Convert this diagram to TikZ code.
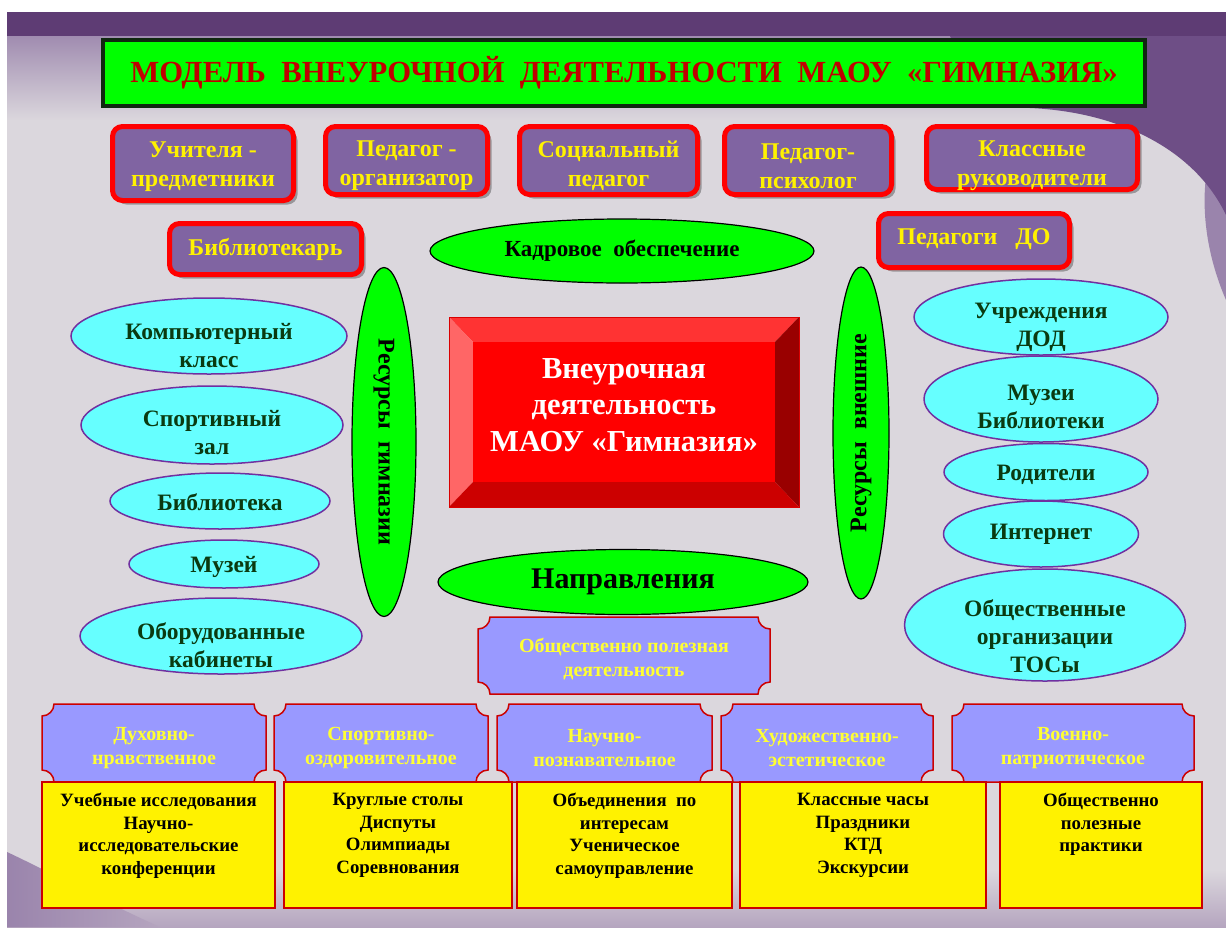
\documentclass[tikz,border=0pt]{standalone}
\usepackage{fontspec}
\setmainfont{Liberation Serif}
\usetikzlibrary{shapes.geometric,shadows}
\definecolor{bgc}{HTML}{DBD7DD}
\definecolor{toppurple}{HTML}{5E3C74}
\definecolor{lavtop}{HTML}{A08CB0}
\definecolor{swoosh}{HTML}{6E4E86}
\definecolor{swooshlight}{HTML}{9A84AC}
\definecolor{botpurple}{HTML}{B5A5BF}
\definecolor{staffc}{HTML}{8064A2}
\definecolor{cyanc}{HTML}{66FFFF}
\definecolor{ellc}{HTML}{7030A0}
\definecolor{dgreen}{HTML}{0A3A10}
\definecolor{plaquec}{HTML}{9999FF}
\definecolor{plaqueline}{HTML}{CC0000}
\definecolor{ytext}{HTML}{FFFF33}
\definecolor{titlered}{HTML}{C00000}
\definecolor{titleline}{HTML}{102810}
\newcommand\myfs[2]{\fontsize{#1}{#2}\selectfont\bfseries}
\newcommand\plq[7]{%
  \path[plaquebox] (#2+12,#3) -- (#4-12,#3)
    .. controls (#4-12,#3+6.6) and (#4-6.6,#3+12) .. (#4,#3+12) -- (#4,#5-12)
    .. controls (#4-6.6,#5-12) and (#4-12,#5-6.6) .. (#4-12,#5) -- (#2+12,#5)
    .. controls (#2+12,#5-6.6) and (#2+6.6,#5-12) .. (#2,#5-12) -- (#2,#3+12)
    .. controls (#2+6.6,#3+12) and (#2+12,#3+6.6) .. (#2+12,#3) -- cycle;
  \node[plaquetext] (#1) at ({(#2+#4)/2},{(#3+#5)/2+#6}) {#7};}
\begin{document}
\begin{tikzpicture}[x=1pt,y=-1pt,
  staff/.style={rectangle, rounded corners=10pt, draw=red, line width=5pt, fill=staffc,
    inner sep=0pt,
    drop shadow={shadow xshift=4pt, shadow yshift=-4pt, fill=black, opacity=0.3}},
  stafftext/.style={text=yellow, font=\myfs{24}{29}, align=center, inner sep=0pt},
  cyanell/.style={ellipse, draw=ellc, line width=1.5pt, fill=cyanc, inner sep=0pt},
  celltext/.style={text=dgreen, font=\myfs{23.5}{28}, align=center, inner sep=0pt},
  greenell/.style={ellipse, draw=black, line width=1.2pt, fill=green, text=black,
    align=center, inner sep=0pt},
  plaquebox/.style={fill=plaquec, draw=plaqueline, line width=1.5pt},
  plaquetext/.style={text=ytext, font=\myfs{20}{24}, align=center, inner sep=0pt},
  ybox/.style={rectangle, fill=yellow, draw=plaqueline, line width=2pt, inner sep=0pt},
  ybtext/.style={text=black, font=\myfs{18.8}{22.5}, align=center, inner sep=0pt, anchor=north}
]
\useasboundingbox (0,0) rectangle (1226,927);
% ---------- background ----------
\fill[white] (0,0) rectangle (1226,927);
\fill[bgc] (7,12) rectangle (1226,927);
\shade[top color=lavtop, bottom color=bgc] (7,36) rectangle (1226,120);
\fill[swooshlight] (1226,110) .. controls (1195,170) and (1200,240) .. (1226,300) -- cycle;
\fill[swoosh] (950,36) -- (1226,36) -- (1226,215) .. controls (1195,150) and (1120,112) .. (1030,108)
  .. controls (1000,105) and (970,80) .. (950,36) -- cycle;
\fill[toppurple] (7,12) rectangle (1226,36);
\shade[top color=bgc, bottom color=botpurple] (7,870) rectangle (1226,927);
\shade[left color=swooshlight, right color=botpurple] (7,852) .. controls (50,872) and (100,900) .. (160,927) -- (7,927) -- cycle;
% ---------- title ----------
\node[rectangle, draw=titleline, line width=4pt, fill=green, minimum width=1042, minimum height=66,
  text=titlered, font=\myfs{30.7}{35}] (title) at (624,73)
  {МОДЕЛЬ\ \ ВНЕУРОЧНОЙ\ \ ДЕЯТЕЛЬНОСТИ\ \ МАОУ\ \ «ГИМНАЗИЯ»};
% ---------- staff ----------
\node[staff, minimum width=181, minimum height=74] (s1) at (203,163.5) {};
\node[stafftext] (s1t) at (203,167) {Учителя -\\предметники};
\node[staff, minimum width=162, minimum height=68] (s2) at (406.5,160.5) {};
\node[stafftext] (s2t) at (406.5,166) {Педагог -\\организатор};
\node[staff, minimum width=178, minimum height=68] (s3) at (608.5,160.5) {};
\node[stafftext] (s3t) at (608.5,166) {Социальный\\педагог};
\node[staff, minimum width=167, minimum height=68] (s4) at (808,160.5) {};
\node[stafftext] (s4t) at (808,166) {Педагог-\\психолог};
\node[staff, minimum width=211, minimum height=63] (s5) at (1032,158) {};
\node[stafftext] (s5t) at (1032,166) {Классные\\руководители};
\node[staff, minimum width=192, minimum height=51] (s6) at (265.5,249) {};
\node[stafftext] (s6t) at (265.5,249) {Библиотекарь};
\node[staff, minimum width=191, minimum height=54] (s7) at (974,240.5) {};
\node[stafftext] (s7t) at (974,239.5) {Педагоги\ \ \ ДО};
% ---------- green ellipses ----------
\node[greenell, minimum width=384, minimum height=64, font=\myfs{23}{27}] (kadr) at (622,251)
  {Кадровое\ \ обеспечение};
\node[greenell, rotate=-90, minimum width=349, minimum height=64, font=\myfs{24}{28}] (resg) at (384,442)
  {Ресурсы\ \ гимназии};
\node[greenell, rotate=90, minimum width=332, minimum height=56, font=\myfs{24}{28}] (resv) at (861,433)
  {Ресурсы\ \ внешние};
\node[greenell, minimum width=370, minimum height=65, font=\myfs{30}{34}] (napr) at (623,582)
  {Направления};
% ---------- central bevel box ----------
\fill[red!80!white] (449,317) -- (799,317) -- (775,342) -- (473,342) -- cycle;
\fill[red!60!white] (449,317) -- (473,342) -- (473,482) -- (449,507) -- cycle;
\fill[red!60!black] (799,317) -- (799,507) -- (775,482) -- (775,342) -- cycle;
\fill[red!80!black] (449,507) -- (799,507) -- (775,482) -- (473,482) -- cycle;
\fill[red] (473,342) rectangle (775,482);
\draw[red!85!black, line width=0.8pt] (449,317) rectangle (799,507);
\node[text=white, font=\myfs{30.5}{36.5}, align=center, inner sep=0pt] (core) at (624,405)
  {Внеурочная\\деятельность\\МАОУ «Гимназия»};
% ---------- left cyan ellipses ----------
\node[cyanell, minimum width=276, minimum height=76] (k1) at (209,336) {};
\node[celltext] (k1t) at (209,346) {Компьютерный\\класс};
\node[cyanell, minimum width=262, minimum height=78] (k2) at (212,425) {};
\node[celltext] (k2t) at (212,433) {Спортивный\\зал};
\node[cyanell, minimum width=220, minimum height=56] (k3) at (220,501) {};
\node[celltext] (k3t) at (220,502) {Библиотека};
\node[cyanell, minimum width=190, minimum height=48] (k4) at (224,564) {};
\node[celltext] (k4t) at (224,567) {Музей};
\node[cyanell, minimum width=282, minimum height=76] (k5) at (221,636) {};
\node[celltext] (k5t) at (221,645) {Оборудованные\\кабинеты};
% ---------- right cyan ellipses ----------
\node[cyanell, minimum width=254, minimum height=76] (r1) at (1041,317) {};
\node[celltext] (r1t) at (1041,327) {Учреждения\\ДОД};
\node[cyanell, minimum width=234, minimum height=86] (r2) at (1041,399) {};
\node[celltext] (r2t) at (1041,407) {Музеи\\Библиотеки};
\node[cyanell, minimum width=204, minimum height=57] (r3) at (1046,472) {};
\node[celltext] (r3t) at (1046,475) {Родители};
\node[cyanell, minimum width=195, minimum height=66] (r4) at (1041,534) {};
\node[celltext] (r4t) at (1041,534) {Интернет};
\node[cyanell, minimum width=281, minimum height=112] (r5) at (1045,625) {};
\node[celltext] (r5t) at (1045,636) {Общественные\\организации\\ТОСы};
% ---------- plaques ----------
\plq{p0}{478}{617}{770}{694}{4}{Общественно полезная\\деятельность}
\plq{p1}{42}{704}{266}{782}{5}{Духовно-\\нравственное}
\plq{p2}{274}{704}{488}{782}{5}{Спортивно-\\оздоровительное}
\plq{p3}{497}{704}{712}{782}{5}{Научно-\\познавательное}
\plq{p4}{721}{704}{933}{782}{5}{Художественно-\\эстетическое}
\plq{p5}{952}{704}{1194}{782}{5}{Военно-\\патриотическое}
% ---------- yellow boxes ----------
\node[ybox, minimum width=233, minimum height=126] (y1) at (158.5,845) {};
\node[ybox, minimum width=228, minimum height=126] (y2) at (398,845) {};
\node[ybox, minimum width=215, minimum height=126] (y3) at (624.5,845) {};
\node[ybox, minimum width=246, minimum height=126] (y4) at (863,845) {};
\node[ybox, minimum width=202, minimum height=126] (y5) at (1101,845) {};
\node[ybtext] (y1t) at ([yshift=-12pt]y1.north) {Учебные исследования\\Научно-\\исследовательские\\конференции};
\node[ybtext] (y2t) at ([yshift=-12pt]y2.north) {Круглые столы\\Диспуты\\Олимпиады\\Соревнования};
\node[ybtext] (y3t) at ([yshift=-12pt]y3.north) {Объединения\ \ по\\интересам\\Ученическое\\самоуправление};
\node[ybtext] (y4t) at ([yshift=-12pt]y4.north) {Классные часы\\Праздники\\КТД\\Экскурсии};
\node[ybtext] (y5t) at ([yshift=-12pt]y5.north) {Общественно\\полезные\\практики};
\end{tikzpicture}
\end{document}
